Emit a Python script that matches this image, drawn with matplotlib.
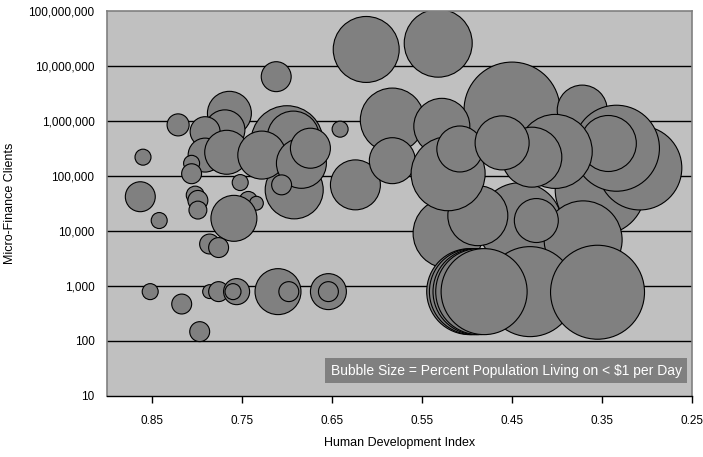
import numpy as np
import matplotlib
matplotlib.use("Agg")
import matplotlib.pyplot as plt
from matplotlib.ticker import FuncFormatter, FixedLocator

plt.rcParams['font.family'] = ['Liberation Sans Narrow', 'Liberation Sans', 'DejaVu Sans']

# Human Development Index, micro-finance clients, % population living on < $1/day
hdi = [0.860, 0.863, 0.842, 0.852, 0.817, 0.797, 0.821, 0.764, 0.769, 0.791,
       0.791, 0.767, 0.806, 0.806, 0.752, 0.802, 0.799, 0.799, 0.743, 0.734,
       0.759, 0.786, 0.776, 0.786, 0.776, 0.756, 0.760, 0.710, 0.698, 0.654,
       0.654,
       0.712, 0.700, 0.693, 0.692, 0.728, 0.684, 0.674, 0.706, 0.641, 0.624,
       0.612, 0.532, 0.583, 0.583,
       0.441, 0.352, 0.371, 0.521, 0.488, 0.423, 0.450, 0.372, 0.528, 0.521,
       0.508, 0.308, 0.334, 0.343, 0.402, 0.428, 0.461,
       0.430, 0.355, 0.497, 0.494, 0.490, 0.487, 0.481]
clients = [2.2e5, 4.2e4, 1.55e4, 790, 470, 148, 8.5e5, 1.38e6, 6.9e5, 6.4e5,
           2.4e5, 2.7e5, 1.7e5, 1.1e5, 7.6e4, 4.5e4, 3.6e4, 2.4e4, 3.6e4, 3.2e4,
           1.7e4, 5800, 5000, 790, 790, 790, 790, 790, 790, 790,
           790,
           6.4e6, 4.2e5, 5.1e5, 5.6e4, 2.4e5, 1.7e5, 3.2e5, 6.9e4, 7.1e5, 6.9e4,
           2.0e7, 2.6e7, 1.04e6, 1.9e5,
           1.3e4, 5.6e4, 6900, 9100, 1.9e4, 1.55e4, 1.58e6, 1.58e6, 8.0e5, 1.1e5,
           3.1e5, 1.4e5, 3.2e5, 3.9e5, 2.8e5, 2.2e5, 4.0e5,
           790, 770, 790, 790, 790, 790, 790]
pct_poor = [2.0, 7.0, 2.0, 2.0, 3.1, 3.1, 3.8, 15.1, 12.5, 7.0,
            9.0, 15.1, 2.0, 3.1, 2.0, 2.5, 3.1, 2.5, 2.5, 1.5,
            16.5, 3.1, 3.1, 1.5, 3.1, 5.3, 2.0, 16.5, 3.1, 10.1,
            3.1,
            7.0, 40.5, 21.1, 26.3, 18.0, 19.5, 12.5, 3.1, 2.0, 19.5,
            34.0, 36.1, 32.0, 16.5,
            55.1, 63.3, 47.5, 38.3, 28.1, 15.1, 72.0, 19.5, 24.5, 42.8,
            16.5, 55.1, 57.8, 24.5, 42.8, 28.1, 22.8,
            63.3, 69.0, 57.8, 57.8, 57.8, 57.8, 57.8]

xticks = [0.85, 0.75, 0.65, 0.55, 0.45, 0.35, 0.25]
yticks = [10, 100, 1000, 1e4, 1e5, 1e6, 1e7, 1e8]

dpi = 100
fig = plt.figure(figsize=(7.03, 4.57), dpi=dpi)
ax = fig.add_axes([0.1522, 0.1335, 0.8322, 0.8424])
ax.set_facecolor('#C0C0C0')

# area proportional to value, largest bubble ~96 px across
pct = np.array(pct_poor)
diam_px = 96 * np.sqrt(pct / pct.max())
sizes = (diam_px * 72 / dpi) ** 2

ax.set_yscale('log')
ax.set_xlim(0.9, 0.25)
ax.set_ylim(10, 1e8)

for v in yticks[1:-1]:
    ax.axhline(v, color='#000000', lw=1.0, zorder=1)

ax.scatter(hdi, clients, s=sizes, c='#808080', edgecolors='black',
           linewidths=0.8, zorder=2)

ax.xaxis.set_major_locator(FixedLocator(xticks))
ax.set_xticklabels(['%.2f' % t for t in xticks])
ax.yaxis.set_major_locator(FixedLocator(yticks))
ax.yaxis.set_minor_locator(FixedLocator([]))
ax.yaxis.set_major_formatter(FuncFormatter(lambda v, p: '{:,.0f}'.format(v)))

ax.tick_params(axis='x', direction='out', length=5, width=1, color='black',
               labelsize=8.5, pad=9)
ax.tick_params(axis='y', length=0, labelsize=8.5, pad=9)

for side in ['top', 'right', 'left']:
    ax.spines[side].set_color('#808080')
    ax.spines[side].set_linewidth(1.2)
ax.spines['bottom'].set_color('black')
ax.spines['bottom'].set_linewidth(1.0)

ax.set_xlabel('Human Development Index', fontsize=9, labelpad=7)
ax.set_ylabel('Micro-Finance Clients', fontsize=9, labelpad=9)

ax.text(0.982, 0.047, 'Bubble Size = Percent Population Living on < $1 per Day',
        transform=ax.transAxes, ha='right', va='bottom', color='white',
        fontsize=10, zorder=5,
        bbox=dict(boxstyle='square,pad=0.4', fc='#808080', ec='none'))

fig.savefig('out.png', dpi=dpi)
